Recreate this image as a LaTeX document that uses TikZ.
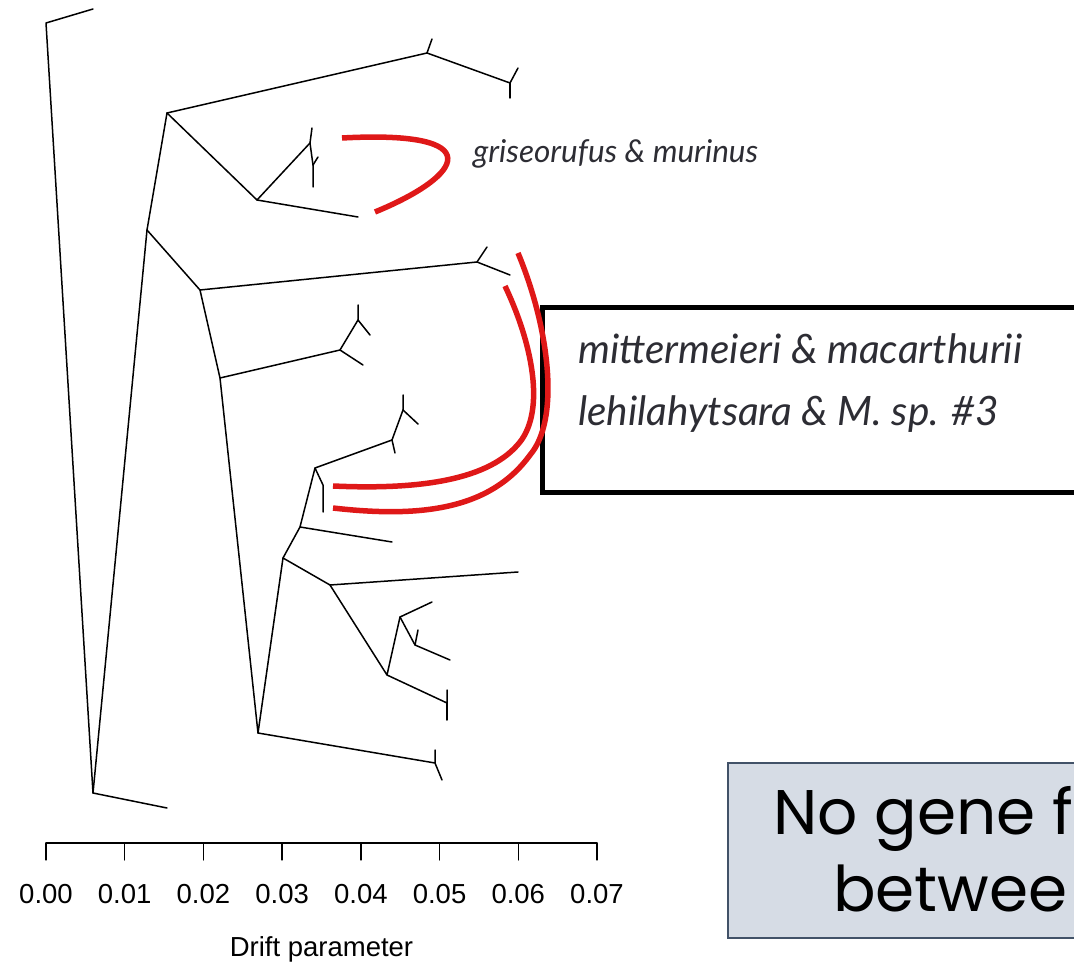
\documentclass[tikz,border=0pt]{standalone}
\usepackage{fontspec}
\usetikzlibrary{calc}
\setmainfont{Liberation Sans}
\newfontfamily\latofont{Lato}
\newfontfamily\gothicfont{Poppins}
\definecolor{hlred}{RGB}{223,24,24}
\definecolor{slidebox}{RGB}{214,220,229}
\definecolor{slideedge}{RGB}{66,82,104}
\definecolor{taxgray}{RGB}{45,45,52}

\begin{document}
\begin{tikzpicture}[x=1pt,y=-1pt,
  branch/.style={draw=black,line width=1.5pt,line cap=round,line join=round},
  flowarc/.style={draw=hlred,line width=5.5pt},
  taxon/.style={font=\fontsize{31.5}{38}\selectfont\latofont\itshape,text=taxgray,
                anchor=base west,inner sep=0pt},
  pairtaxon/.style={taxon,font=\fontsize{40.5}{46}\selectfont\latofont\itshape},
  pairbox/.style={draw=black,line width=5pt,fill=white,anchor=north west,
                  minimum width=560pt,minimum height=185pt},
  notebox/.style={draw=slideedge,line width=1.5pt,fill=slidebox,anchor=north west,
                  minimum width=360pt,minimum height=175pt},
  note/.style={font=\fontsize{63}{72}\selectfont\gothicfont,anchor=base west,inner sep=0pt},
  tick/.style={font=\fontsize{27.5}{32}\selectfont,anchor=base,inner sep=0pt}
]
  \clip (0,0) rectangle (1074,973);

  % Tree nodes
  \coordinate (root) at (93,793);
  \coordinate (top0) at (46,23);   \coordinate (top1) at (93,9);
  \coordinate (outg) at (167,808);
  \coordinate (c)    at (147,230);
  \coordinate (a)    at (167,113);
  \coordinate (d)    at (200,290);
  \coordinate (n1)   at (427,53);  \coordinate (n1t)  at (432,39);
  \coordinate (n2)   at (510,83);  \coordinate (n2u)  at (518,68);  \coordinate (n2d) at (510,98);
  \coordinate (b)    at (257,200);
  \coordinate (z)    at (310,143); \coordinate (zu)   at (312,128);
  \coordinate (zm)   at (313,165); \coordinate (zt)   at (318,157); \coordinate (zd) at (313,187);
  \coordinate (btip) at (358,217);
  \coordinate (e)    at (477,262); \coordinate (eu)   at (487,247); \coordinate (etip) at (510,275);
  \coordinate (f)    at (220,378);
  \coordinate (h)    at (340,350); \coordinate (i)    at (358,320);
  \coordinate (iu)   at (358,305); \coordinate (itip) at (370,335); \coordinate (htip) at (363,365);
  \coordinate (t)    at (258,733);
  \coordinate (n)    at (283,558);
  \coordinate (u)    at (435,763); \coordinate (uu)   at (435,750); \coordinate (ud) at (442,780);
  \coordinate (m)    at (300,527); \coordinate (mtip) at (392,542);
  \coordinate (j)    at (315,468); \coordinate (jm)   at (323,485); \coordinate (jd) at (323,512);
  \coordinate (k)    at (392,440); \coordinate (kd)   at (395,453);
  \coordinate (l)    at (403,410); \coordinate (lu)   at (403,395); \coordinate (ltip) at (418,424);
  \coordinate (o)    at (330,585); \coordinate (otip) at (518,572);
  \coordinate (p)    at (387,675);
  \coordinate (q)    at (400,617); \coordinate (qtip) at (432,602);
  \coordinate (r)    at (415,645); \coordinate (rt)   at (418,630); \coordinate (rtip) at (450,660);
  \coordinate (s)    at (447,703); \coordinate (su)   at (447,690); \coordinate (sd) at (447,720);

  % Branches
  \draw[branch] (top1) -- (top0) -- (root) -- (outg);
  \draw[branch] (root) -- (c) -- (a) -- (n1) -- (n1t);
  \draw[branch] (n1) -- (n2) -- (n2u);
  \draw[branch] (n2) -- (n2d);
  \draw[branch] (a) -- (b) -- (z) -- (zu);
  \draw[branch] (z) -- (zm) -- (zd);
  \draw[branch] (zm) -- (zt);
  \draw[branch] (b) -- (btip);
  \draw[branch] (c) -- (d) -- (e) -- (eu);
  \draw[branch] (e) -- (etip);
  \draw[branch] (d) -- (f) -- (h) -- (i) -- (iu);
  \draw[branch] (i) -- (itip);
  \draw[branch] (h) -- (htip);
  \draw[branch] (f) -- (t) -- (u) -- (uu);
  \draw[branch] (u) -- (ud);
  \draw[branch] (t) -- (n) -- (m) -- (j) -- (k) -- (l) -- (lu);
  \draw[branch] (l) -- (ltip);
  \draw[branch] (k) -- (kd);
  \draw[branch] (j) -- (jm) -- (jd);
  \draw[branch] (m) -- (mtip);
  \draw[branch] (n) -- (o) -- (otip);
  \draw[branch] (o) -- (p) -- (q) -- (qtip);
  \draw[branch] (q) -- (r) -- (rtip);
  \draw[branch] (r) -- (rt);
  \draw[branch] (p) -- (s) -- (su);
  \draw[branch] (s) -- (sd);

  % Axis
  \coordinate (ax0) at (46,843);
  \coordinate (ax7) at (597,843);
  \draw[branch,line width=1.3pt] (ax0) -- (ax7);
  \foreach \v in {0,...,7}{
    \draw[branch,line width=1.3pt] ($(ax0)!\v/7!(ax7)$) -- ++(0,17);
    \node[tick] (lab\v) at ($(ax0)!\v/7!(ax7)+(0,60)$) {0.0\v};
  }
  \node[tick] (xlab) at ($(ax0)!0.5!(ax7)+(0,113)$) {Drift parameter};

  % Gene flow arcs
  \node[taxon] (gm) at (473,163) {griseorufus \& murinus};
  \coordinate (g0) at (342,138);
  \coordinate (g1) at (375,212);
  \draw[flowarc] (g0) .. controls (490,130) and (465,175) .. (g1);

  \node[pairbox] (pairs) at (540,305) {};
  \node[pairtaxon] (mm) at (578,364) {mittermeieri \& macarthurii};
  \node[pairtaxon] (ls) at (578,426) {lehilahytsara \& M. sp. \#3};

  \coordinate (in0) at (505,286);
  \coordinate (in1) at (520,442);
  \coordinate (in2) at (333,486);
  \coordinate (out0) at (518,253);
  \coordinate (out1) at (530,455);
  \coordinate (out2) at (333,508);
  \draw[flowarc] (in0) .. controls (533,345) and (545,410) .. (in1)
                       .. controls (490,480) and (420,490) .. (in2);
  \draw[flowarc] (out0) .. controls (550,330) and (560,420) .. (out1)
                        .. controls (490,510) and (420,518) .. (out2);

  % Slide note
  \node[notebox] (nobox) at (727,762) {};
  \node[note] (no1) at (773,834) {No gene f};
  \node[note] (no2) at (833,911) {betwee};
\end{tikzpicture}
\end{document}
